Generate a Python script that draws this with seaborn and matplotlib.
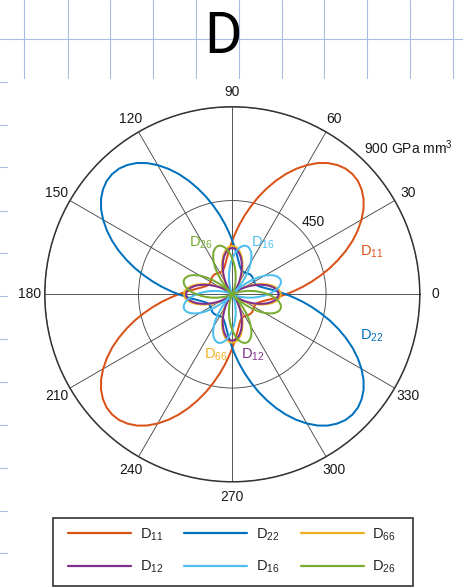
import numpy as np
import pandas as pd
import matplotlib
matplotlib.use("Agg")
import matplotlib.pyplot as plt
from matplotlib.lines import Line2D
from matplotlib.patches import Rectangle
import seaborn as sns

# In-plane direction (deg) over half a turn, 3 deg steps; the response repeats every 180 deg
angles_deg = list(range(0, 180, 3))

# Bending stiffness components, GPa mm^3
d11 = [258, 296, 339, 385, 433, 484, 534, 584, 632, 676, 716, 751, 779, 799, 812,
       816, 812, 799, 779, 751, 716, 676, 632, 584, 534, 484, 433, 385, 339, 296,
       258, 224, 196, 172, 154, 140, 130, 124, 121, 120, 121, 122, 124, 126, 128,
       128, 128, 126, 124, 122, 121, 120, 121, 124, 130, 140, 154, 172, 196, 224]
d22 = [258, 224, 196, 172, 154, 140, 130, 124, 121, 120, 121, 122, 124, 126, 128,
       128, 128, 126, 124, 122, 121, 120, 121, 124, 130, 140, 154, 172, 196, 224,
       258, 296, 339, 385, 433, 484, 534, 584, 632, 676, 716, 751, 779, 799, 812,
       816, 812, 799, 779, 751, 716, 676, 632, 584, 534, 484, 433, 385, 339, 296]
d66 = [232, 230, 223, 212, 197, 179, 158, 136, 114, 92, 72, 53, 38, 27, 20,
       18, 20, 27, 38, 53, 72, 92, 114, 136, 158, 179, 197, 212, 223, 230,
       232, 230, 223, 212, 197, 179, 158, 136, 114, 92, 72, 53, 38, 27, 20,
       18, 20, 27, 38, 53, 72, 92, 114, 136, 158, 179, 197, 212, 223, 230]
d12 = [222, 220, 213, 202, 187, 169, 148, 126, 104, 82, 62, 43, 28, 17, 10,
       8, 10, 17, 28, 43, 62, 82, 104, 126, 148, 169, 187, 202, 213, 220,
       222, 220, 213, 202, 187, 169, 148, 126, 104, 82, 62, 43, 28, 17, 10,
       8, 10, 17, 28, 43, 62, 82, 104, 126, 148, 169, 187, 202, 213, 220]
d16 = [172, 193, 212, 227, 237, 242, 241, 234, 222, 203, 179, 150, 116, 79, 40,
       0, 40, 79, 116, 150, 179, 203, 222, 234, 241, 242, 237, 227, 212, 193,
       172, 149, 125, 101, 78, 56, 37, 21, 9, 1, 7, 10, 10, 8, 4,
       0, 4, 8, 10, 10, 7, 1, 9, 21, 37, 56, 78, 101, 125, 149]
d26 = [172, 149, 125, 101, 78, 56, 37, 21, 9, 1, 7, 10, 10, 8, 4,
       0, 4, 8, 10, 10, 7, 1, 9, 21, 37, 56, 78, 101, 125, 149,
       172, 193, 212, 227, 237, 242, 241, 234, 222, 203, 179, 150, 116, 79, 40,
       0, 40, 79, 116, 150, 179, 203, 222, 234, 241, 242, 237, 227, 212, 193]

series_names = ["D11", "D22", "D66", "D12", "D16", "D26"]
series_labels = ["D$_{11}$", "D$_{22}$", "D$_{66}$", "D$_{12}$", "D$_{16}$", "D$_{26}$"]
series_colors = ["#D95319", "#0072BD", "#EDB120", "#7E2F8E", "#4DBEEE", "#77AC30"]
angle_ticks = [0, 30, 60, 90, 120, 150, 180, 210, 240, 270, 300, 330]
radial_ticks = [450, 900]
radial_unit = "GPa mm$^3$"

sns.set_style("white")
plt.rcParams["font.family"] = ["Liberation Sans", "DejaVu Sans"]
plt.rcParams["mathtext.fontset"] = "custom"
plt.rcParams["mathtext.rm"] = "Liberation Sans"
plt.rcParams["mathtext.it"] = "Liberation Sans:italic"
plt.rcParams["mathtext.bf"] = "Liberation Sans:bold"
plt.rcParams["mathtext.default"] = "regular"

W, H = 464, 587
fig = plt.figure(figsize=(W / 100, H / 100), dpi=100)
fig.patch.set_facecolor("white")


def fx(x):
    return x / W


def fy(y):
    return 1 - y / H


# Notebook-paper backdrop: grid strip on top, margin dashes on the left
paper = fig.add_axes([0, 0, 1, 1], zorder=-1)
paper.set_xlim(0, W)
paper.set_ylim(H, 0)
paper.axis("off")
grid_col = "#a9bce1"
for x in [24.3, 67.7, 110.3, 153.3, 196, 238.7, 281.7, 324.3, 367.3, 410.3, 453.3]:
    paper.add_line(Line2D([x, x], [0, 77.7], color=grid_col, lw=0.8))
paper.add_line(Line2D([0, W], [39, 39], color=grid_col, lw=0.8))
for y in [81.5, 124.5, 167, 210.5, 253, 296, 338.5, 381.5, 424.5, 467.5, 510.5, 553]:
    paper.add_line(Line2D([0, 7], [y, y], color=grid_col, lw=0.8))

fig.text(fx(223), fy(53), "D", ha="center", va="baseline", fontsize=41, color="black",
         family=["Roboto", "Liberation Sans"], fontweight="normal")

# Long table: one full turn per component
half = np.deg2rad(angles_deg)
theta = np.concatenate([half, half + np.pi, half[:1] + 2 * np.pi])
frames = []
for name, vals in zip(series_names, [d11, d22, d66, d12, d16, d26]):
    r = np.concatenate([vals, vals, vals[:1]])
    frames.append(pd.DataFrame({"theta": theta, "r": r, "series": name}))
df = pd.concat(frames, ignore_index=True)

cx, cy, R = 232.3, 294.3, 187.5
ax = fig.add_axes([fx(cx - R), fy(cy + R), 2 * R / W, 2 * R / H], projection="polar")
sns.lineplot(data=df, x="theta", y="r", hue="series", hue_order=series_names,
             palette=series_colors, sort=False, estimator=None, linewidth=1.45,
             legend=False, ax=ax)
ax.set_xlabel("")
ax.set_ylabel("")
ax.set_ylim(0, radial_ticks[-1])
ax.set_thetagrids(angle_ticks, labels=[str(a) for a in angle_ticks], fontsize=10, color="#1a1a1a")
ax.set_rgrids(radial_ticks, labels=["", ""])
ax.grid(True, color="#4a4a4a", linewidth=0.65)
ax.spines["polar"].set_color("#333333")
ax.spines["polar"].set_linewidth(1.1)
ax.tick_params(axis="x", pad=0.5)

fig.text(fx(301.7), fy(226), str(radial_ticks[0]), ha="left", va="baseline", fontsize=10, color="#1a1a1a")
fig.text(fx(364), fy(154), f"{radial_ticks[1]} {radial_unit}", ha="left", va="baseline", fontsize=10,
         color="#1a1a1a")

# Component labels beside their curves
label_pos = {"D11": (360, 256), "D22": (360, 339.3), "D26": (189.3, 246.7),
             "D16": (250.7, 246.7), "D66": (204, 358.3), "D12": (240.7, 358.3)}
for name, lab, col in zip(series_names, series_labels, series_colors):
    x, y = label_pos[name]
    fig.text(fx(x), fy(y), lab, ha="left", va="baseline", fontsize=10.5, color=col)

# Legend: three columns inside a square box
paper.add_patch(Rectangle((52.7, 518.3), 360, 67.7, fill=False, edgecolor="#333333", lw=1.2))
handles = {n: Line2D([0], [0], color=c, lw=1.6) for n, c in zip(series_names, series_colors)}
labels = dict(zip(series_names, series_labels))
leg_order = ["D11", "D12", "D22", "D16", "D66", "D26"]
leg = fig.legend([handles[n] for n in leg_order], [labels[n] for n in leg_order], ncol=3,
                 loc="center", bbox_to_anchor=(fx(232), fy(551)), frameon=False,
                 fontsize=10.5, handlelength=4.32, handletextpad=0.58, columnspacing=1.45,
                 labelspacing=1.1, borderpad=0, borderaxespad=0)

fig.savefig("out.png", dpi=100, facecolor="white")
